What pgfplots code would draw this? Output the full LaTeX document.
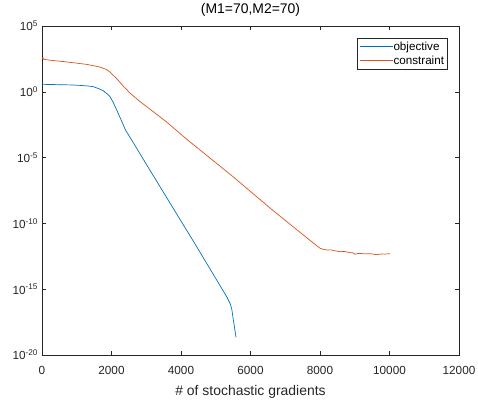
\documentclass[border=0pt]{standalone}
\usepackage{fontspec}
\setmainfont{Liberation Sans}
\usepackage{pgfplots}
\pgfplotsset{compat=1.18}
\definecolor{mblue}{rgb}{0,0.447,0.741}
\definecolor{morange}{rgb}{0.85,0.325,0.098}
\definecolor{axgray}{rgb}{0.15,0.15,0.15}

\begin{document}
\begin{tikzpicture}
\useasboundingbox (-42bp,-47bp) rectangle (436bp,355bp);
\begin{axis}[
    at={(0,0)}, anchor=south west,
    scale only axis,
    width=417bp, height=329bp,
    ymode=log, log basis y=10,
    xmin=0, xmax=12000,
    ymin=1e-20, ymax=1e5,
    xtick={0,2000,4000,6000,8000,10000,12000},
    scaled x ticks=false,
    ytick={1e-20,1e-15,1e-10,1e-5,1e0,1e5},
    yticklabels={10\textsuperscript{-20},10\textsuperscript{-15},10\textsuperscript{-10},10\textsuperscript{-5},10\textsuperscript{0},10\textsuperscript{5}},
    yminorticks=false,
    tick align=inside,
    major tick length=4.2bp,
    tick style={axgray, line width=0.5bp},
    axis line style={axgray, line width=0.5bp},
    /pgf/number format/1000 sep={},
    /pgf/number format/assume math mode=true,
    ticklabel style={font=\fontsize{11.8}{13}\selectfont, text=axgray},
    xticklabel style={anchor=base, yshift=-19bp},
    yticklabel style={anchor=east, xshift=-0.5bp},
    xlabel={\# of stochastic gradients},
    xlabel style={at={(axis description cs:0.5,0)}, anchor=base, yshift=-40bp,
        font=\fontsize{14}{16}\selectfont, text=axgray},
    title={(M1=70,M2=70)},
    title style={at={(axis description cs:0.5,1)}, anchor=base, yshift=6.5bp,
        font=\fontsize{14}{16}\selectfont},
    legend style={at={(1,1)}, anchor=north east, xshift=-11.7bp, yshift=-12.3bp,
        draw=axgray, line width=0.5bp, font=\fontsize{11.7}{13}\selectfont,
        inner xsep=2.5bp, inner ysep=2.7bp, row sep=3bp,
        nodes={inner sep=0.5bp, text depth=0.15em}},
    legend cell align=left,
    legend image code/.code={\draw[#1] (0bp,0bp) -- (33bp,0bp);},
]
\addplot[mblue, line width=0.7bp] coordinates {
    (0,3.7) (500,3.47) (902,3.3) (1300,2.8) (1477,2.45) (1669,1.58)
    (1765,1.2) (1860,0.76) (1957,0.43) (2050,0.158) (2149,0.042)
    (2245,0.0112) (2341,3.0e-3) (2400,1.26e-3) (2581,2.2e-4)
    (2920,7.1e-6) (3972,2.0e-10) (4355,4.5e-12) (5315,2.7e-16)
    (5411,8.5e-17) (5460,3.2e-17) (5506,4.6e-18) (5583,2.2e-19)
};
\addlegendentry{objective}
\addplot[morange, line width=0.7bp] coordinates {
    (0,330) (25,400) (50,300) (100,282) (300,240) (600,200) (902,162) (1300,120)
    (1669,76) (1850,50) (1957,31.6) (2149,10) (2350,2.5) (2533,0.8)
    (2800,0.2) (3108,0.048) (3589,5e-3) (4164,2.5e-4) (4547,3.8e-5)
    (5506,3.4e-7) (6610,1.15e-9) (7810,3.2e-12) (8001,1.3e-12)
    (8100,1.05e-12) (8193,9.5e-13) (8300,9.8e-13) (8400,8.6e-13)
    (8577,7.1e-13) (8700,7.4e-13) (8865,6.0e-13) (8950,5.8e-13)
    (9008,4.5e-13) (9050,5.0e-13) (9150,5.2e-13) (9300,4.8e-13)
    (9450,5.0e-13) (9633,4.2e-13) (9750,4.8e-13) (9850,4.6e-13)
    (10016,5.0e-13)
};
\addlegendentry{constraint}
\end{axis}
\end{tikzpicture}
\end{document}
